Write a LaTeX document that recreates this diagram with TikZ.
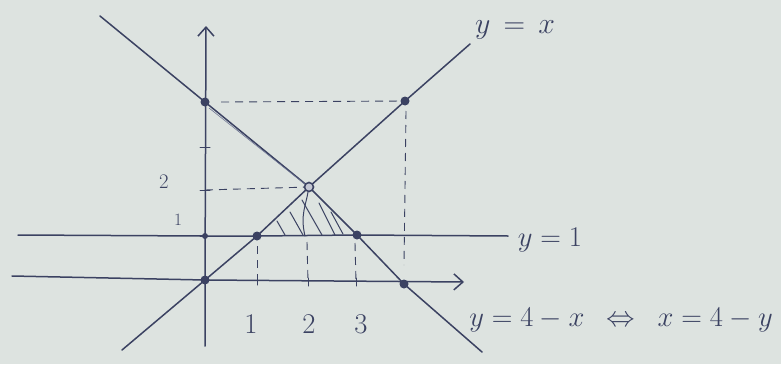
\documentclass[tikz,border=0pt]{standalone}
\usetikzlibrary{arrows.meta,calc}
\definecolor{paper}{HTML}{DDE3E0}
\definecolor{pen}{HTML}{3B4262}
\definecolor{penlight}{HTML}{6E7594}
\newcommand{\bigtxt}[2]{\scalebox{#1}{\fontsize{24.88}{28}\selectfont #2}}
\begin{document}
\begin{tikzpicture}[x=1pt,y=-1pt,
  ink/.style={draw=pen,line width=1.5pt,line cap=round,line join=round},
  thin ink/.style={draw=pen,line width=1pt,line cap=round},
  guide/.style={draw=pen,line width=0.9pt,dash pattern=on 8pt off 6pt},
  dot/.style={circle,fill=pen,inner sep=0pt,minimum size=9pt},
  hollow/.style={circle,draw=pen,fill=penlight!40,line width=1.6pt,inner sep=0pt,minimum size=9pt},
  lbl/.style={text=pen,inner sep=1pt},
  barb/.style={-{Straight Barb[length=9pt,width=16pt,line width=1.5pt]}}
]
\fill[paper] (0,0) rectangle (781,364);
\useasboundingbox (0,0) rectangle (781,364);

% key points
\coordinate (O) at (205,280);
\coordinate (A) at (205,102);
\coordinate (B) at (405,101);
\coordinate (C) at (309,187);
\coordinate (D) at (257,236);
\coordinate (E) at (357,235);
\coordinate (F) at (404,284);
\coordinate (Y1) at (205,236);
\coordinate (Y2) at (205,190);
\coordinate (Y3) at (205,147);
\coordinate (X1) at (257,281);
\coordinate (X2) at (308,282);
\coordinate (X3) at (356,282);

% axes
\coordinate (xs) at (12,276);
\coordinate (xe) at (464,282);
\coordinate (ys) at (205,346);
\coordinate (ye) at (206,26);
\draw[ink,barb] (xs) -- (O) -- (xe);
\draw[ink,barb] (ys) -- (O) -- (ye);

% y = 1
\coordinate (h1) at (18,235);
\coordinate (h2) at (508,236);
\draw[ink] (h1) -- (Y1) -- (D) -- (E) -- (h2);

% y = x
\coordinate (d1) at (122,350);
\coordinate (d2) at (470,44);
\draw[ink] (d1) -- (O) -- (D) -- (C) -- (B) -- (d2);

% y = 4 - x
\coordinate (e1) at (100,16);
\coordinate (e2) at (482,352);
\draw[ink] (e1) -- (A) -- (C) -- (E) -- (F) -- (e2);
\draw[draw=penlight,line width=0.6pt] ($(A)+(4,6)$) -- ($(C)+(-3,-2)$);

% ticks
\foreach \p in {Y1,Y2,Y3}{\draw[thin ink] ($(\p)+(-5,0)$) -- ($(\p)+(5,0)$);}
\foreach \p in {X1,X2,X3}{\draw[thin ink] ($(\p)+(0,-4)$) -- ($(\p)+(0,4)$);}

% dashed guides
\coordinate (Bd) at (404,265);
\draw[guide] ($(A)+(16,0)$) -- (B);
\draw[guide] ($(B)+(1,10)$) -- (Bd);
\draw[guide] (Y2) -- (C);
\draw[guide] ($(D)+(0,10)$) -- (X1);
\draw[guide] ($(C)+(-2,55)$) -- (X2);
\draw[guide] ($(E)+(-2,8)$) -- (X3);

% hatching of the triangle D C E
\foreach \a/\b in {{277,221}/{285,235},{290,212}/{303,235},{302,200}/{322,235},{319,203}/{335,235},{331,212}/{343,234}}{
  \draw[thin ink] (\a) -- (\b);
}
\draw[thin ink] ($(C)+(-1,5)$) .. controls (306,205) and (300,215) .. (305,236);

% points
\foreach \p in {O,A,B,D,E,F}{\node[dot] at (\p) {};}
\node[dot,minimum size=6pt] at (Y1) {};
\node[hollow] (Cn) at (C) {};

% labels
\node[lbl] (lyx) at (515,30) {\bigtxt{1.2}{$y \,=\, x$}};
\node[lbl] (ly1) at (550,240) {\bigtxt{1.15}{$y=1$}};
\node[lbl] (lyd) at (621,320) {\bigtxt{1.15}{$y=4-x \enspace\Leftrightarrow\enspace x=4-y$}};
\node[lbl] (t1) at (251,324) {\bigtxt{1.15}{$1$}};
\node[lbl] (t2) at (309,324) {\bigtxt{1.15}{$2$}};
\node[lbl] (t3) at (361,324) {\bigtxt{1.15}{$3$}};
\node[lbl,font=\fontsize{20}{22}\selectfont] (ty2) at (164,182) {$2$};
\node[lbl,font=\fontsize{17}{19}\selectfont] (ty1) at (178,220) {$1$};
\end{tikzpicture}
\end{document}
